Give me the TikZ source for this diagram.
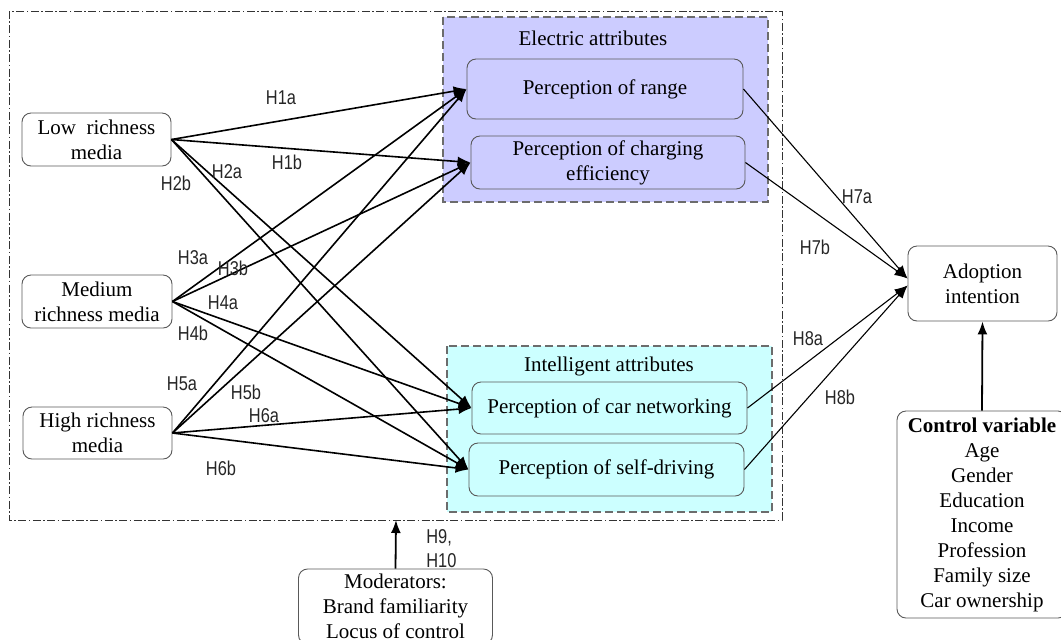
\documentclass[tikz,border=0pt]{standalone}
\usepackage{fontspec}
\setmainfont{Liberation Serif}
\newfontfamily\hypfont[FakeStretch=0.82]{Liberation Sans}
\usepackage{xcolor}
\usepackage{tikz}
\usetikzlibrary{arrows.meta}

\definecolor{elecfill}{RGB}{204,204,255}
\definecolor{intelfill}{RGB}{204,255,255}

\begin{document}
\begin{tikzpicture}[x=0.5pt, y=-0.5pt,
  txt/.style={font=\fontsize{10.5}{12.5}\selectfont, align=center},
  box/.style={txt, draw=gray!70!black, line width=0.45pt, rounded corners=4.5pt, inner sep=0pt},
  group/.style={draw=gray!85!black, line width=0.6pt, dash pattern=on 4pt off 2pt},
  hlab/.style={font=\hypfont\fontsize{10}{12}\selectfont, text=black!85, inner sep=0pt, align=left},
  hyp/.style={line width=0.8pt, -{Latex[length=6.5pt, width=5pt]}},
  outc/.style={line width=0.55pt, -{Latex[length=6.5pt, width=5pt]}}]
  \clip (0,0) rectangle (1061,639);
  %% model frame
  \draw[line width=0.5pt, black!80, dash pattern=on 4pt off 1.2pt on 0.8pt off 1.2pt]
    (9,11) rectangle (782,520);
  \coordinate (framebot) at (396,520);
  %% attribute groups
  \filldraw[group, fill=elecfill] (443,17) rectangle (768,202);
  \filldraw[group, fill=intelfill] (447,346) rectangle (772,512);
  \node[txt] (elechead) at (593,38) {Electric attributes};
  \node[txt] (intelhead) at (609,366) {Intelligent attributes};
  %% media richness
  \node[box, fill=white, minimum width=74.5pt, minimum height=26.5pt] (low) at (96.5,139.5) {Low\ \ richness\\media};
  \node[box, fill=white, minimum width=75pt, minimum height=26.5pt] (medium) at (97,301.5) {Medium\\richness media};
  \node[box, fill=white, minimum width=74.5pt, minimum height=26pt] (high) at (97.5,433) {High richness\\media};
  %% perceptions
  \node[box, minimum width=138pt, minimum height=30pt] (range) at (605,89) {Perception of range};
  \node[box, minimum width=137pt, minimum height=26.5pt] (charge) at (608,162.5) {Perception of charging\\efficiency};
  \node[box, minimum width=137.5pt, minimum height=26pt] (carnet) at (609.5,408) {Perception of car networking};
  \node[box, minimum width=137.5pt, minimum height=26.5pt] (selfdrv) at (606.5,469.5) {Perception of self-driving};
  %% outcome, controls, moderators
  \node[box, fill=white, minimum width=74.5pt, minimum height=37.5pt] (adopt) at (982.5,283.5) {Adoption\\intention};
  \node[box, fill=white, minimum width=85pt, minimum height=103.5pt] (ctrl) at (982,514.5)
    {\textbf{Control variable}\\Age\\Gender\\Education\\Income\\Profession\\Family size\\Car ownership};
  \node[box, fill=white, minimum width=97pt, minimum height=37.5pt] (mod) at (395.5,606.5)
    {Moderators:\\Brand familiarity\\Locus of control};
  %% hypotheses H1--H6
  \draw[hyp] (low.east) -- (range.west);
  \draw[hyp] (low.east) -- (charge.west);
  \draw[hyp] (low.east) -- (carnet.west);
  \draw[hyp] (low.east) -- (selfdrv.west);
  \draw[hyp] (medium.east) -- (range.west);
  \draw[hyp] (medium.east) -- (charge.west);
  \draw[hyp] (medium.east) -- (carnet.west);
  \draw[hyp] (medium.east) -- (selfdrv.west);
  \draw[hyp] (high.east) -- (range.west);
  \draw[hyp] (high.east) -- (charge.west);
  \draw[hyp] (high.east) -- (carnet.west);
  \draw[hyp] (high.east) -- (selfdrv.west);
  %% hypotheses H7, H8
  \draw[outc] (range.east) -- ([yshift=2.5pt]adopt.west);
  \draw[outc] (charge.east) -- ([yshift=2.5pt]adopt.west);
  \draw[outc] (carnet.east) -- ([yshift=-1pt]adopt.west);
  \draw[outc] (selfdrv.east) -- ([yshift=-1pt]adopt.west);
  \draw[hyp, line width=0.9pt] (ctrl.north) -- (adopt.south);
  \draw[hyp, line width=0.9pt] (mod.north) -- (framebot);
  %% labels
  \node[hlab] (h1a) at (281,98) {H1a};
  \node[hlab] (h1b) at (287,162) {H1b};
  \node[hlab] (h2a) at (227,172) {H2a};
  \node[hlab] (h2b) at (176,183) {H2b};
  \node[hlab] (h3a) at (193,258) {H3a};
  \node[hlab] (h3b) at (233,268) {H3b};
  \node[hlab] (h4a) at (223,303) {H4a};
  \node[hlab] (h4b) at (193,333) {H4b};
  \node[hlab] (h5a) at (182,384) {H5a};
  \node[hlab] (h5b) at (246,392) {H5b};
  \node[hlab] (h6a) at (264,416) {H6a};
  \node[hlab] (h6b) at (221,468) {H6b};
  \node[hlab] (h7a) at (857,197) {H7a};
  \node[hlab] (h7b) at (815,247) {H7b};
  \node[hlab] (h8a) at (808,339) {H8a};
  \node[hlab] (h8b) at (840,397) {H8b};
  \node[hlab, anchor=west] (h9) at (426,549) {H9,\\H10};
\end{tikzpicture}
\end{document}
